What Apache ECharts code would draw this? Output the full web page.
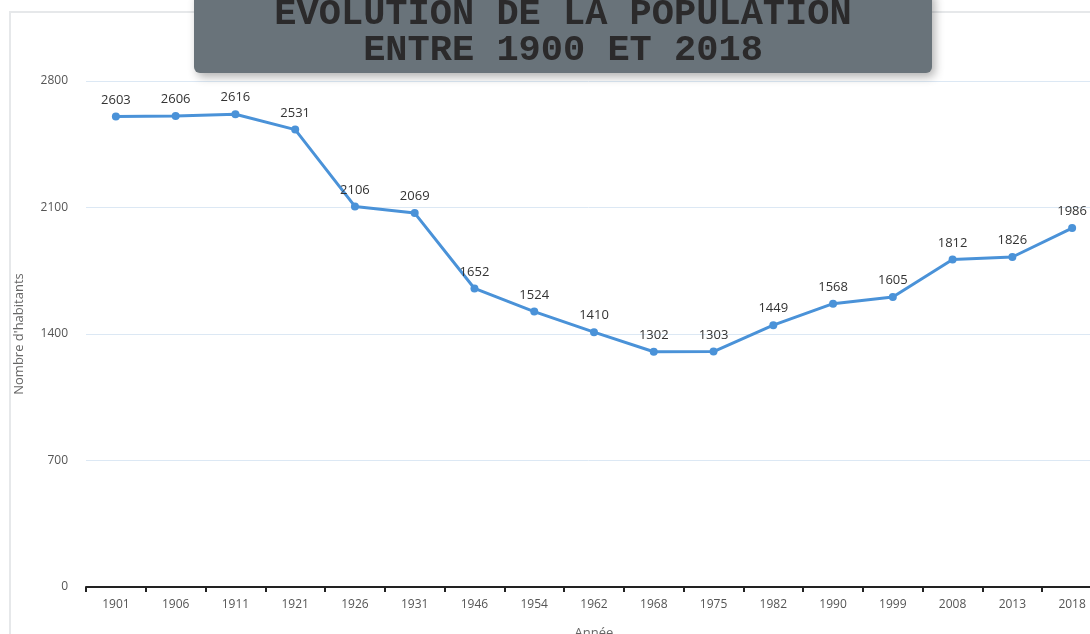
<!DOCTYPE html>
<html>
<head>
<meta charset="utf-8">
<script src="https://cdn.jsdelivr.net/npm/echarts@6/dist/echarts.min.js"></script>
<style>
  html, body { margin: 0; padding: 0; background: #fff; }
  #conMain { width: 1090px; height: 634px; }
</style>
</head>
<body>
<div id="conMain"></div>
<script>
var years = ['1901','1906','1911','1921','1926','1931','1946','1954','1962','1968','1975','1982','1990','1999','2008','2013','2018'];
var population = [2603, 2606, 2616, 2531, 2106, 2069, 1652, 1524, 1410, 1302, 1303, 1449, 1568, 1605, 1812, 1826, 1986];
var yTicks = [0, 700, 1400, 2100, 2800];
var titleLines = ['ÉVOLUTION DE LA POPULATION', 'ENTRE 1900 ET 2018'];

var myChart = echarts.init(document.getElementById('conMain'));

var option = {
    backgroundColor: '#fff',
    animation: false,
    graphic: [
        {
            type: 'rect',
            shape: { x: 10, y: 12, width: 1100, height: 640 },
            style: { fill: 'none', stroke: '#e6e8ea', lineWidth: 2 },
            silent: true
        },
        {
            type: 'rect',
            z: 10,
            shape: { x: 194, y: -10, width: 738, height: 83, r: 6 },
            style: {
                fill: '#69737a',
                shadowBlur: 10,
                shadowOffsetX: 3,
                shadowOffsetY: 4,
                shadowColor: 'rgba(0,0,0,0.3)'
            }
        },
        {
            type: 'text',
            z: 11,
            x: 563,
            y: 15,
            style: {
                text: titleLines[0],
                fill: '#2b2a2b',
                font: 'bold 37px "Liberation Mono", "DejaVu Sans Mono", monospace',
                align: 'center',
                verticalAlign: 'middle'
            }
        },
        {
            type: 'text',
            z: 11,
            x: 563,
            y: 51,
            style: {
                text: titleLines[1],
                fill: '#2b2a2b',
                font: 'bold 37px "Liberation Mono", "DejaVu Sans Mono", monospace',
                align: 'center',
                verticalAlign: 'middle'
            }
        }
    ],
    grid: {
        left: 86,
        right: -12,
        top: 81,
        bottom: 47,
        containLabel: false,
        outerBoundsMode: 'none'
    },
    xAxis: {
        type: 'category',
        data: years,
        boundaryGap: true,
        name: 'Année',
        nameLocation: 'middle',
        nameGap: 40,
        nameTextStyle: { color: '#666', fontSize: 13, fontFamily: 'Open Sans' },
        axisLine: { lineStyle: { color: '#222', width: 2 } },
        axisTick: { show: true, length: 5, lineStyle: { color: '#222', width: 2 } },
        axisLabel: { color: '#555', fontSize: 12, margin: 12, fontFamily: 'Open Sans' },
        splitLine: { show: false }
    },
    yAxis: {
        type: 'value',
        min: 0,
        max: 2800,
        interval: 700,
        name: "Nombre d'habitants",
        nameLocation: 'middle',
        nameGap: 60,
        nameRotate: 90,
        nameTextStyle: { color: '#666', fontSize: 13, fontFamily: 'Open Sans' },
        axisLine: { show: false },
        axisTick: { show: false },
        axisLabel: {
            color: '#555', fontSize: 12, margin: 18, fontFamily: 'Open Sans',
            formatter: function (v) { return yTicks.indexOf(v) >= 0 ? String(v) : ''; }
        },
        splitLine: { lineStyle: { color: '#dce8f4', width: 1 } }
    },
    series: [
        {
            name: 'Population',
            type: 'line',
            data: population,
            symbol: 'circle',
            symbolSize: 8,
            lineStyle: { color: '#4a92d8', width: 3 },
            itemStyle: { color: '#4a92d8' },
            label: {
                show: true,
                position: 'top',
                distance: 6,
                color: '#333',
                fontSize: 13,
                fontFamily: 'Open Sans'
            }
        }
    ]
};

myChart.setOption(option);
</script>
</body>
</html>
